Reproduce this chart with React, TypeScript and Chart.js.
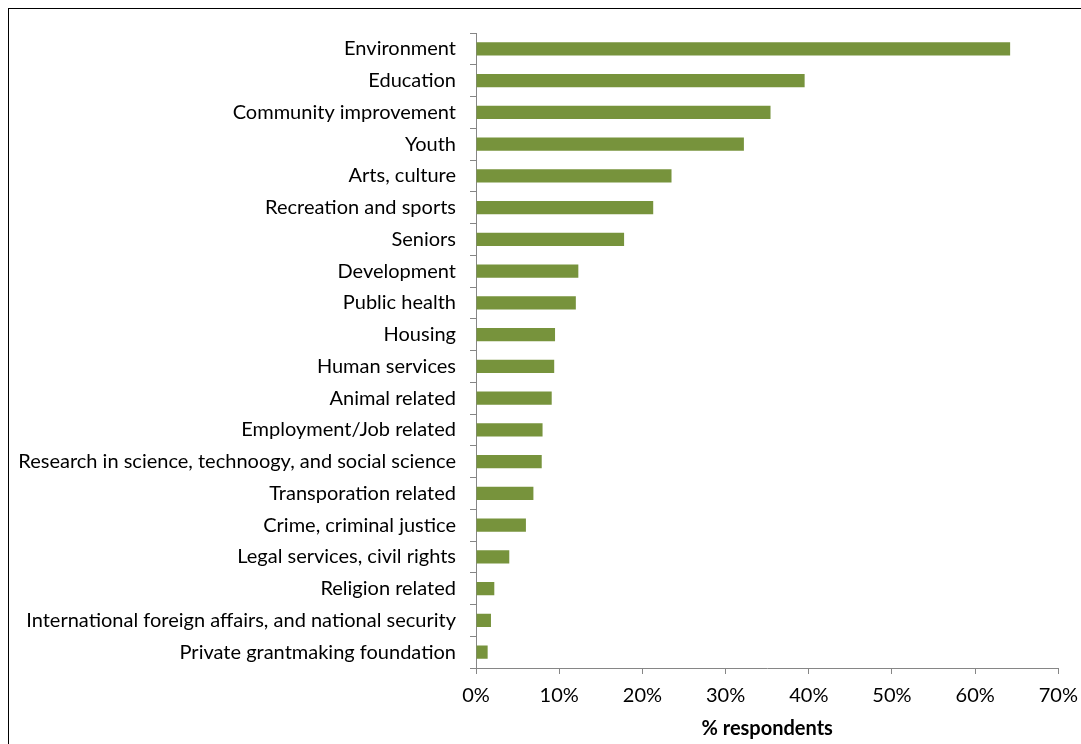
import React, { useEffect, useRef } from "react";
import { Chart, registerables } from "chart.js";

Chart.register(...registerables);

const categories = [
  "Environment",
  "Education",
  "Community improvement",
  "Youth",
  "Arts, culture",
  "Recreation and sports",
  "Seniors",
  "Development",
  "Public health",
  "Housing",
  "Human services",
  "Animal related",
  "Employment/Job related",
  "Research in science, technoogy, and social science",
  "Transporation related",
  "Crime, criminal justice",
  "Legal services, civil rights",
  "Religion related",
  "International foreign affairs, and national security",
  "Private grantmaking foundation",
];

const respondentsPct = [
  64.2, 39.5, 35.4, 32.2, 23.5, 21.3, 17.8, 12.3, 12.0, 9.5, 9.4, 9.1, 8.0, 7.9,
  6.9, 6.0, 4.0, 2.2, 1.8, 1.4,
];

const xTickValues = [0, 10, 20, 30, 40, 50, 60, 70];
const xTitle = "% respondents";

const FONT = "Lato, 'Noto Sans', sans-serif";

export default function App() {
  const ref = useRef<HTMLCanvasElement | null>(null);

  useEffect(() => {
    const canvas = ref.current;
    if (!canvas) return;
    const chart = new Chart(canvas, {
      type: "bar",
      data: {
        labels: categories,
        datasets: [
          {
            data: respondentsPct,
            backgroundColor: "#77933C",
            borderWidth: 0,
            barPercentage: 0.41,
            categoryPercentage: 1,
          },
        ],
      },
      options: {
        indexAxis: "y",
        animation: false,
        responsive: false,
        maintainAspectRatio: false,
        layout: { padding: { top: 14.5, right: 0, bottom: 3, left: 0 } },
        plugins: { legend: { display: false }, tooltip: { enabled: false } },
        scales: {
          x: {
            min: 0,
            max: 70,
            afterBuildTicks: (s: any) => {
              s.ticks = xTickValues.map((v) => ({ value: v }));
            },
            ticks: {
              callback: (v: any) => v + "%",
              color: "#000",
              font: { family: FONT, size: 20 },
              padding: 10,
              maxRotation: 0,
            },
            grid: {
              drawOnChartArea: false,
              drawTicks: true,
              tickLength: 6,
              color: "#868686",
            },
            border: { color: "#868686", width: 1 },
            title: {
              display: true,
              text: xTitle,
              color: "#000",
              font: { family: FONT, size: 20, weight: "bold" },
              padding: { top: 6, bottom: 0 },
            },
            afterFit: (s: any) => {
              s.height = 73;
            },
          },
          y: {
            ticks: {
              color: "#000",
              font: { family: FONT, size: 20 },
              padding: 14,
              autoSkip: false,
            },
            grid: {
              drawOnChartArea: false,
              drawTicks: true,
              tickLength: 6,
              color: "#868686",
              offset: true,
            },
            border: { color: "#868686", width: 1 },
            afterFit: (s: any) => {
              s.width = 467;
            },
          },
        },
      },
    });
    return () => chart.destroy();
  }, []);

  return (
    <div style={{ position: "fixed", left: 0, top: 0, width: 1081, height: 744, overflow: "hidden", background: "#fff" }}>
      <div
        style={{
          position: "absolute",
          left: 8,
          top: 8,
          width: 1100,
          height: 780,
          border: "1px solid #000",
          boxSizing: "border-box",
          background: "#fff",
        }}
      >
        <canvas
          ref={ref}
          width={1079}
          height={737}
          style={{ position: "absolute", left: 0, top: -2, display: "block", width: 1079, height: 737 }}
        />
      </div>
    </div>
  );
}
